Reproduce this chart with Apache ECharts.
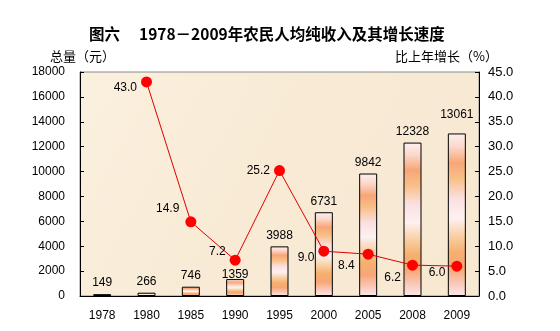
<!DOCTYPE html>
<html>
<head>
<meta charset="utf-8">
<script src="https://cdn.jsdelivr.net/npm/echarts@6/dist/echarts.min.js"></script>
<style>
  html, body { margin: 0; padding: 0; background: #fff; }
  #chart { width: 560px; height: 331px; }
</style>
</head>
<body>
<div id="chart"></div>
<script>
// Rural per-capita net income (yuan) and growth over previous year (%)
const years = ['1978', '1980', '1985', '1990', '1995', '2000', '2005', '2008', '2009'];
const income = [149, 266, 746, 1359, 3988, 6731, 9842, 12328, 13061];
const growth = [null, 43.0, 14.9, 7.2, 25.2, 9.0, 8.4, 6.2, 6.0];

const leftTicks = { min: 0, max: 18000, interval: 2000 };
const rightTicks = { min: 0, max: 45, interval: 5 };

// per-point label nudges for the growth line
const growthLabelOffsets = [null, [0, 6], [-2, -13], [0, -8], [0, 0], [0, 6], [-4, 12], [-2, 13], [-2, 7]];
// per-bar label nudges for the income bars
const incomeLabelOffsets = [[0, 0], [0, 0], [0, 0], [0, 7], [0, 0], [0, 0], [0, 0], [0, 0], [0, -8]];

const chart = echarts.init(document.getElementById('chart'), null, { renderer: 'canvas' });

const barFill = new echarts.graphic.LinearGradient(0, 0, 0, 1, [
  { offset: 0.00, color: '#fdf0f0' },
  { offset: 0.08, color: '#fbd8cc' },
  { offset: 0.18, color: '#f7a677' },
  { offset: 0.28, color: '#f8c088' },
  { offset: 0.40, color: '#fbdfe0' },
  { offset: 0.52, color: '#fdf1f0' },
  { offset: 0.63, color: '#f9d0a6' },
  { offset: 0.73, color: '#f6b06e' },
  { offset: 0.83, color: '#f7a676' },
  { offset: 0.93, color: '#f9cbbd' },
  { offset: 1.00, color: '#fce9e9' }
]);

const plotBg = new echarts.graphic.LinearGradient(0, 0, 1, 1, [
  { offset: 0, color: '#fbf0df' },
  { offset: 0.5, color: '#f8ead4' },
  { offset: 1, color: '#f7e8d2' }
]);

const cjk = '"Noto Sans CJK SC", "Liberation Sans", sans-serif';
const num = '"Liberation Sans", Arial, sans-serif';

chart.setOption({
  animation: false,
  backgroundColor: '#ffffff',
  title: {
    text: '图六　 1978－2009年农民人均纯收入及其增长速度',
    left: 84,
    top: 21,
    textStyle: { fontFamily: cjk, fontSize: 15.5, fontWeight: 'bold', color: '#000' }
  },
  graphic: [
    { type: 'text', left: 50, top: 50, style: { text: '总量（元）', font: '13px ' + cjk, fill: '#000' } },
    { type: 'text', right: 62, top: 50, style: { text: '比上年增长（%）', font: '13px ' + cjk, fill: '#000' } }
  ],
  grid: {
    left: 80, right: 81, top: 72, bottom: 35,
    show: true,
    backgroundColor: plotBg,
    borderColor: '#8a8a8a',
    borderWidth: 1
  },
  xAxis: {
    type: 'category',
    data: years,
    boundaryGap: true,
    axisLine: { lineStyle: { color: '#000', width: 1 } },
    axisTick: { inside: true, length: 4, lineStyle: { color: '#000' } },
    axisLabel: { margin: 14, fontFamily: num, fontSize: 12, color: '#000' }
  },
  yAxis: [
    {
      type: 'value',
      min: leftTicks.min, max: leftTicks.max, interval: leftTicks.interval,
      axisLine: { show: true, lineStyle: { color: '#000' } },
      axisTick: { show: true, inside: true, length: 4, lineStyle: { color: '#000' } },
      splitLine: { show: false },
      axisLabel: {
        margin: 15, fontFamily: num, fontSize: 12, color: '#000',
        formatter: v => String(v)
      }
    },
    {
      type: 'value',
      position: 'right',
      min: rightTicks.min, max: rightTicks.max, interval: rightTicks.interval,
      axisLine: { show: true, lineStyle: { color: '#000' } },
      axisTick: { show: true, inside: true, length: 4, lineStyle: { color: '#000' } },
      splitLine: { show: false },
      axisLabel: {
        margin: 9, fontFamily: num, fontSize: 13, color: '#000',
        formatter: v => v.toFixed(1)
      }
    }
  ],
  series: [
    {
      name: '总量',
      type: 'bar',
      yAxisIndex: 0,
      barWidth: 18,
      z: 2,
      data: income.map((v, i) => ({
        value: v,
        label: { offset: incomeLabelOffsets[i] }
      })),
      itemStyle: { color: barFill, borderColor: '#000', borderWidth: 1 },
      label: {
        show: true, position: 'top', distance: 5,
        fontFamily: num, fontSize: 12, color: '#000'
      }
    },
    {
      name: '增长',
      type: 'line',
      yAxisIndex: 1,
      z: 5,
      connectNulls: false,
      symbol: 'circle',
      symbolSize: 11,
      data: growth.map((v, i) => v === null ? '-' : ({
        value: v,
        label: { offset: growthLabelOffsets[i] }
      })),
      lineStyle: { color: '#e00000', width: 1 },
      itemStyle: { color: '#ff0000' },
      label: {
        show: true, position: 'left', distance: 4,
        fontFamily: num, fontSize: 12, color: '#000',
        formatter: p => Number(p.value).toFixed(1)
      }
    }
  ]
});
</script>
</body>
</html>
